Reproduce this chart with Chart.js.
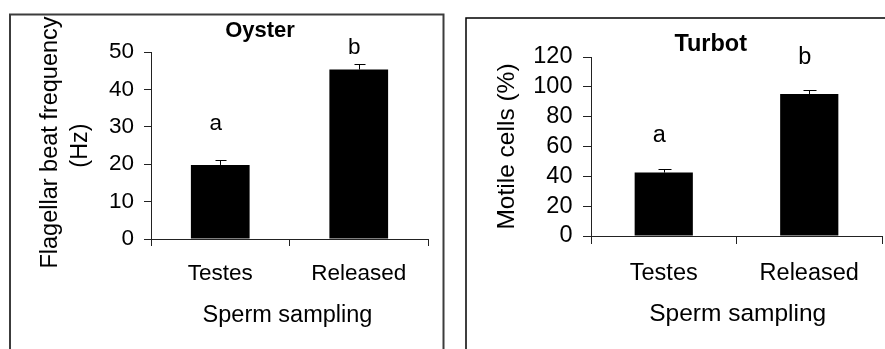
<!DOCTYPE html>
<html>
<head>
<meta charset="utf-8">
<script src="https://cdn.jsdelivr.net/npm/chart.js@4.4.0/dist/chart.umd.min.js"></script>
<style>
  html, body { margin: 0; padding: 0; background: #fff; }
  body { width: 885px; height: 349px; position: relative; overflow: hidden; }
  canvas { position: absolute; top: 0; }
  #oyster { left: 0; }
  #turbot { left: 445px; }
</style>
</head>
<body>
<canvas id="oyster" width="445" height="349"></canvas>
<canvas id="turbot" width="440" height="349"></canvas>
<script>
const samplings = ['Testes', 'Released'];

// Oyster: flagellar beat frequency (Hz), means and upper error
const oysterMeans = [19.8, 45.3];
const oysterErrors = [1.3, 1.4];
const oysterLetters = ['a', 'b'];
const oysterTicks = [0, 10, 20, 30, 40, 50];

// Turbot: motile cells (%), means and upper error
const turbotMeans = [42.5, 95.2];
const turbotErrors = [2.3, 2.6];
const turbotLetters = ['a', 'b'];
const turbotTicks = [0, 20, 40, 60, 80, 100, 120];

const FONT = "'Liberation Sans', Arial, sans-serif";

Chart.defaults.color = '#000';
Chart.defaults.font.family = FONT;

// frame, error bars, significance letters and titles
const panelDecor = {
    id: 'panelDecor',
    afterDatasetsDraw(chart, args, o) {
        const ctx = chart.ctx;
        const yScale = chart.scales.y;
        const meta = chart.getDatasetMeta(0);
        const means = chart.data.datasets[0].data;
        ctx.save();

        ctx.strokeStyle = o.frameColor;
        ctx.lineWidth = o.frameWidth;
        ctx.strokeRect(o.frame[0], o.frame[1], o.frame[2], o.frame[3]);

        ctx.strokeStyle = '#000';
        ctx.lineWidth = 1;
        meta.data.forEach((bar, i) => {
            const x = Math.round(bar.x) + 0.5;
            const top = Math.round(yScale.getPixelForValue(means[i] + o.errors[i])) + 0.5;
            ctx.beginPath();
            ctx.moveTo(x, bar.y);
            ctx.lineTo(x, top);
            ctx.moveTo(x - o.cap, top);
            ctx.lineTo(x + o.cap + 1, top);
            ctx.stroke();
        });

        ctx.fillStyle = '#000';
        ctx.textAlign = 'center';
        ctx.textBaseline = 'alphabetic';
        ctx.font = o.textSize + 'px ' + FONT;
        meta.data.forEach((bar, i) => {
            ctx.fillText(o.letters[i], bar.x - 4.5, yScale.getPixelForValue(o.letterAt[i]));
        });

        ctx.font = 'bold ' + o.titleSize + 'px ' + FONT;
        ctx.fillText(o.title, o.titlePos[0], o.titlePos[1]);

        ctx.font = o.axisSize + 'px ' + FONT;
        ctx.fillText('Sperm sampling', o.xTitlePos[0], o.xTitlePos[1]);

        o.yTitle.forEach((line, i) => {
            ctx.save();
            ctx.translate(o.yTitlePos[i][0], o.yTitlePos[i][1]);
            ctx.rotate(-Math.PI / 2);
            ctx.fillText(line, 0, 0);
            ctx.restore();
        });
        ctx.restore();
    }
};

function makePanel(id, means, ticks, cfg) {
    return new Chart(document.getElementById(id), {
        type: 'bar',
        data: {
            labels: samplings,
            datasets: [{
                data: means,
                backgroundColor: '#000',
                borderWidth: 0,
                barPercentage: cfg.barPct,
                categoryPercentage: 1
            }]
        },
        options: {
            responsive: false,
            animation: false,
            devicePixelRatio: 1,
            layout: { padding: cfg.padding },
            plugins: {
                legend: { display: false },
                tooltip: { enabled: false },
                panelDecor: cfg.decor
            },
            scales: {
                x: {
                    offset: true,
                    grid: { offset: true, drawOnChartArea: false, drawTicks: true, tickLength: cfg.tick, color: '#222' },
                    border: { display: true, color: '#222', width: 1 },
                    ticks: { font: { size: cfg.decor.textSize }, padding: cfg.xPad, maxRotation: 0, autoSkip: false },
                    afterFit: (s) => { s.height = cfg.xHeight; }
                },
                y: {
                    min: ticks[0],
                    max: ticks[ticks.length - 1],
                    grid: { drawOnChartArea: false, drawTicks: true, tickLength: cfg.tick, color: '#222' },
                    border: { display: true, color: '#222', width: 1 },
                    ticks: { stepSize: ticks[1] - ticks[0], font: { size: cfg.decor.textSize, lineHeight: 1 }, padding: cfg.yPad, autoSkip: false },
                    afterFit: (s) => { s.width = cfg.yWidth; }
                }
            }
        },
        plugins: [panelDecor]
    });
}

makePanel('oyster', oysterMeans, oysterTicks, {
    barPct: 0.424,
    padding: { top: 52, right: 17, bottom: 0, left: 0 },
    yWidth: 151,
    xHeight: 110,
    tick: 7,
    xPad: 14,
    yPad: 10,
    decor: {
        frame: [10, 14.5, 433.5, 400],
        frameColor: '#3c3c3c',
        frameWidth: 2,
        errors: oysterErrors,
        cap: 5,
        letters: oysterLetters,
        letterAt: [29.2, 49.5],
        textSize: 22.5,
        titleSize: 22,
        axisSize: 23.5,
        title: 'Oyster',
        titlePos: [260, 37],
        xTitlePos: [287.5, 322],
        yTitle: ['Flagellar beat frequency', '(Hz)'],
        yTitlePos: [[56.5, 142.5], [87, 145.5]]
    }
});

makePanel('turbot', turbotMeans, turbotTicks, {
    barPct: 0.40,
    padding: { top: 57, right: 3, bottom: 0, left: 0 },
    yWidth: 146,
    xHeight: 113,
    tick: 8,
    xPad: 15,
    yPad: 10.5,
    decor: {
        frame: [21, 18, 460, 400],
        frameColor: '#000',
        frameWidth: 1.5,
        errors: turbotErrors,
        cap: 6,
        letters: turbotLetters,
        letterAt: [62.7, 115.5],
        textSize: 23.5,
        titleSize: 23.5,
        axisSize: 24.5,
        title: 'Turbot',
        titlePos: [265.7, 50.5],
        xTitlePos: [292.7, 321],
        yTitle: ['Motile cells (%)'],
        yTitlePos: [[69.3, 146.5]]
    }
});
</script>
</body>
</html>
